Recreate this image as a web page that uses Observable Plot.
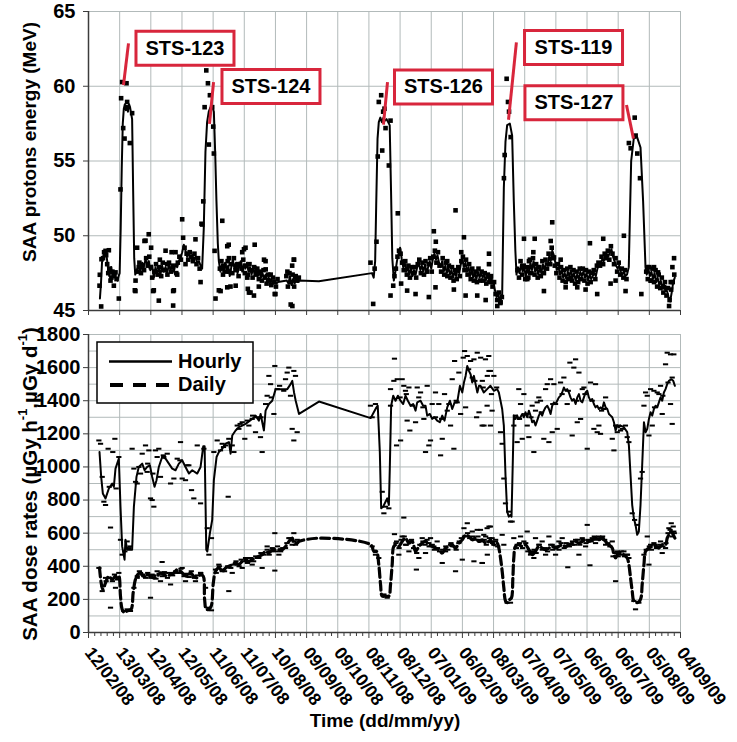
<!DOCTYPE html>
<html><head><meta charset="utf-8">
<script src="https://cdn.jsdelivr.net/npm/d3@7"></script>
<script src="https://cdn.jsdelivr.net/npm/@observablehq/plot@0.6"></script>
<style>
body{margin:0;background:#fff;}
#chart{width:737px;height:742px;overflow:hidden;}
#chart svg{display:block;}
</style></head><body><div id="chart"></div>
<script>
// ---------- DATA (day offset from 12/02/08, value) ----------
const tickDays = [0,30,60,90,120,150,180,210,240,270,300,330,360,390,420,450,480,510,540,570];
const energyTicks = [45,50,55,60,65];
const doseTicks = [0,200,400,600,800,1000,1200,1400,1600,1800];

const missions = [
  {label:"STS-123", day:92.9,  val:62.54, p1:[38.5,62.87], p2:[33.7,60.08]},
  {label:"STS-124", day:175.7, val:59.98, p1:[120.4,60.28], p2:[116.5,57.49]},
  {label:"STS-126", day:341.8, val:59.95, p1:[287.9,60.28], p2:[284,57.43]},
  {label:"STS-119", day:467,   val:62.6,  p1:[412,62.94], p2:[404.4,57.76]},
  {label:"STS-127", day:467.4, val:58.9,  p1:[518,58.75], p2:[524.7,56.5]}
];

const energyLine = [[11,45.8],[12,46.8],[13,48.2],[14,48.6],[15,48.8],[16,49.0],[17,48.9],[18,48.3],[19,47.7],[20,47.3],[21,47.8],[22,47.9],[23,47.3],[24,47.6],[26,47.2],[28,47.0],[29,47.3],[30,47.5],[31,50.5],[32,54.5],[33,57.5],[34,58.5],[35,58.8],[36,58.4],[37,58.7],[38,58.3],[39,58.8],[40,58.6],[41,58.2],[42,57.8],[43,53.0],[44,48.5],[45,47.4],[47,47.8],[48.5,48.0],[50,47.6],[51.7,48.2],[53,47.9],[54.9,48.4],[56.5,48.1],[58.1,48.3],[59.5,47.7],[61.3,48.0],[62.9,47.2],[64.5,47.9],[66,47.5],[67.7,47.8],[69.3,47.4],[70.9,48.0],[72.5,47.6],[74.2,47.9],[75.8,47.5],[77.4,48.1],[79,47.7],[80.6,48.0],[82.2,47.6],[83.8,48.1],[85.4,47.9],[87,48.3],[88.6,48.5],[90.2,48.9],[91.8,49.4],[93.4,49.0],[95,48.6],[96.6,48.8],[98.2,48.5],[99.8,48.7],[101.4,48.4],[103,48.6],[104.6,48.2],[106.3,48.3],[107.9,48.0],[109.4,47.8],[111,50.5],[112.6,55.6],[114.2,57.6],[115.8,58.3],[117.5,58.6],[119.1,58.7],[120.7,58.3],[122,55.5],[123.2,52.3],[124.5,49.5],[125.5,48.3],[127,47.6],[128.5,48.1],[130,47.5],[131.5,48.2],[133,47.7],[134.5,48.0],[136,47.3],[137.5,47.9],[139,48.4],[140.5,47.8],[142,48.2],[143.5,47.5],[145,47.9],[146.5,48.3],[148,47.6],[149.5,48.1],[151,47.8],[152.5,48.2],[154,47.6],[155.5,47.9],[157,47.4],[158.5,47.8],[160,47.5],[161.5,47.9],[163,47.3],[164.5,47.6],[166,47.2],[167.5,47.5],[169,47.1],[170.5,47.4],[172,46.9],[173.5,47.2],[175,46.9],[176.5,47.0],[178,46.8],[179.5,46.9],[181,46.8],[182.5,46.9],[191,47.0],[192.5,46.8],[194,47.3],[195.5,46.7],[197,47.1],[198.5,46.8],[200,47.2],[201.5,46.9],[202.7,47.0],[221.8,46.95],[273,47.5],[274.6,47.2],[276,48.3],[277,52],[278.3,56.5],[279.5,57.6],[281,57.9],[282.5,57.6],[284,57.9],[285.5,57.7],[287,57.8],[288.5,57.6],[290,57.4],[291.3,53],[292.5,48.5],[294,47.0],[295.5,47.6],[297,48.3],[298.5,48.8],[300,49.2],[301.5,48.5],[303,47.9],[304.5,48.2],[306,47.6],[307.5,47.9],[309,47.4],[310.5,47.8],[312,47.3],[313.5,47.7],[315,47.4],[316.5,47.9],[318,48.2],[319.5,47.7],[321,48.0],[322.5,47.6],[324,48.1],[325.5,47.5],[327,47.9],[328.5,48.3],[330,47.8],[331.5,48.4],[333,48.8],[334.5,48.4],[336,48.7],[337.5,48.2],[339,47.9],[340.5,48.3],[342,47.6],[343.5,48.0],[345,47.5],[346.5,47.9],[348,47.4],[349.5,47.7],[351,47.2],[352.5,47.6],[354,47.3],[355.5,47.8],[357,47.5],[358.5,48.1],[360,48.4],[361.5,47.9],[363,48.2],[364.5,47.6],[366,47.9],[367.5,47.3],[369,47.7],[370.5,47.2],[372,47.5],[373.5,47.1],[375,47.6],[376.5,47.2],[378,47.5],[379.5,47.2],[381,47.4],[382.5,47.0],[384,47.3],[385.5,47.1],[387,47.2],[388.5,46.8],[390,46.9],[391.5,46.3],[393,45.9],[394.5,46.1],[396,45.6],[397.5,45.8],[398.3,46.1],[399.9,53.2],[401.5,56.3],[403.1,57.4],[405.7,57.5],[407.9,56.7],[409.5,52.3],[411,49],[412.1,47.4],[413.5,47.9],[415,47.5],[416.5,48.1],[418,47.6],[419.5,47.9],[421,47.3],[422.5,47.8],[424,47.4],[425.5,48.2],[427,47.7],[428.5,48.3],[430,47.6],[431.5,47.9],[433,47.4],[434.5,47.8],[436,47.5],[437.5,48.1],[439,47.7],[440.5,48.2],[442,48.0],[443.5,48.6],[445,48.3],[446.5,49.0],[448,48.7],[449.5,48.2],[451,47.7],[452.5,47.9],[454,47.4],[455.5,47.7],[457,47.2],[458.5,47.5],[460,47.1],[461.5,47.6],[463,47.3],[464.5,47.7],[466,47.2],[467.5,47.5],[469,47.0],[470.5,47.4],[472,47.1],[473.5,47.6],[475,47.3],[476.5,47.6],[478,47.2],[479.5,47.5],[481,47.0],[482.5,47.4],[484,47.1],[485.5,47.3],[487,47.5],[488.5,47.3],[490,47.8],[491.5,48.0],[493,48.2],[494.5,48.4],[496,48.3],[497.5,48.6],[499,48.8],[500.5,48.6],[502,48.9],[503.5,49.1],[505,48.6],[506.5,48.3],[508,48.0],[509.5,47.8],[511,48.0],[512.5,47.6],[514,47.4],[515.5,47.6],[517,47.3],[518.5,47.4],[520.2,47.9],[522.5,55.0],[525,56.5],[528.2,56.6],[531.5,55.9],[534,52.3],[536.3,47.9],[537.5,47.4],[539,47.8],[540.5,47.3],[542,47.6],[543.5,47.1],[545,47.5],[546.5,46.9],[548,47.2],[549.5,46.7],[551,47.0],[552.5,46.5],[554,46.8],[555.5,46.3],[557,46.3],[558.5,45.9],[560,45.6],[561.5,46.2],[563,46.9],[564.5,47.2]];

const energyPoints = [[12.2,45.27],[10.6,46.66],[10.9,47.39],[12.5,48.43],[16.4,48.99],[19.6,49.03],[21.2,47.0],[24.4,46.66],[26.0,47.55],[29.2,45.8],[30.8,53.1],[31.4,59.2],[32.4,60.28],[36.6,60.2],[33.4,57.2],[34.7,56.5],[37.2,58.95],[39.8,56.2],[42.0,58.2],[46.8,49.2],[45.2,46.3],[48.4,47.9],[53.9,49.65],[58.0,50.1],[60.3,49.2],[61.3,47.2],[62.2,46.3],[67.7,45.66],[68.7,48.4],[75.7,48.1],[81.5,45.33],[81.5,46.3],[83.8,48.9],[85.4,47.4],[90.2,51.1],[91.1,49.87],[93.4,48.1],[103,49.76],[107.9,46.9],[109.5,50.75],[110.5,52.3],[111.8,58.6],[113.4,61.06],[115,60.2],[115.9,56.1],[116.9,59.4],[119.1,58.6],[120.1,57.3],[120.7,55.5],[121.4,48.99],[122.3,45.8],[127.2,46.3],[128.8,51.0],[133.6,49.3],[135.2,48.5],[133.6,46.55],[141.7,46.66],[144.2,48.1],[149.7,49.1],[152.9,47.2],[154.5,46.2],[159.3,46.0],[160,49.4],[162.6,47.5],[169,48.4],[170.6,47.75],[175.4,47.4],[179.3,46.1],[191.5,47.6],[194.7,45.4],[196.3,45.3],[197.9,48.4],[198.9,47.2],
[44.6,46.35],[45.3,47.0],[54.9,49.67],[62.9,46.35],[74.2,49.0],[80,48.9],[82.2,46.35],[108.8,50.8],[125.5,46.35],[135,49.4],[136.7,46.6],[148,48.9],[151.2,49.2],[153.4,46.45],[156,46.2],[164,46.6],[170.5,48.3],[180,46.1],
[196.1,48.0],[197.7,48.4],[271.5,48.2],[277.3,49.6],[275.5,47.8],
[274.1,45.44],[279.5,58.95],[281.8,59.4],[283.7,58.3],[285,58.5],[286,57.2],[282.8,55.7],[278.5,55.3],[289.2,54.7],[290.8,57.7],[297.8,51.5],[290.8,46.0],[293.4,46.66],[294.6,47.3],[301,46.8],[306.8,46.33],[314.9,46.1],[327.7,45.9],[332.5,50.3],[334.4,49.6],[334.1,46.55],[345.4,48.3],[351.8,46.4],[353.4,51.7],[361.5,49.9],[358.9,48.9],[363.1,46.0],[374.3,46.0],[382.4,45.7],[385.6,48.8],[385.6,48.1],[387.2,47.2],[393.6,45.3],[396.8,45.55],[400,53.85],[400.7,55.4],[402.6,60.5],[403.9,58.95],[404.9,58.3],[406.5,56.6],[419.3,49.8],[429.6,49.8],[422.5,47.1],[424.1,48.3],[428.3,48.9],[433.7,47.9],[438.5,46.3],[446.5,50.9],[445,49.65],[448.2,48.55],[454.6,48.4],[459.4,46.55],[464.2,47.2],[470.6,46.55],[478.6,46.4],[482.8,49.5],[489.8,46.1],[495.6,49.8],[502.7,46.8],[507.5,47.0],[515.5,50.0],[517.1,46.3],[520.3,56.2],[522,55.85],[525.9,57.9],[526.8,56.7],[528.4,55.5],[531,53.85],[532.3,46.1],[538,47.9],[541.3,47.0],[544.5,47.9],[548.4,47.55],[554.2,46.55],[559,45.3],[562.2,47.9],[563.8,48.5],[560.6,46.9],
[14,48.5],[15,48.9],[17,48.7],[18,48.1],[19,47.5],[20,47.8],[22,47.2],[23,47.6],[25,47.3],[27,47.1],
[47,47.6],[49,48.2],[50.5,47.5],[52,48.0],[53.5,47.7],[55.5,48.5],[57,48.0],[58.5,48.6],[60,47.9],[63.5,47.6],[65,48.1],[66.5,47.4],[68,47.9],[70,47.3],[71.5,48.2],[73,47.7],[76,47.4],[77.5,48.2],[79.5,47.6],[81,48.0],[84.5,47.5],[86,48.2],[87.5,48.6],[89,48.4],[92.5,49.2],[94.5,48.8],[96,48.4],[97.5,48.9],[99,48.6],[100.5,48.3],[102,48.8],[104,48.1],[105.5,48.5],[107,47.8],
[126.5,47.8],[128,48.3],[129.5,47.4],[131,48.0],[132.5,47.6],[134,48.3],[135.5,47.6],[137,48.1],[138.5,47.5],[140,48.5],[141.5,47.7],[143,48.0],[144.5,47.3],[146,48.1],[147.5,47.8],[149,48.4],[150.5,47.5],[152,48.0],[153.5,47.4],[155,48.1],[156.5,47.7],[158,47.2],[159.5,47.9],[161,47.4],[162.5,47.8],[164,47.1],[165.5,47.6],[167,47.0],[168.5,47.7],[170,47.2],[171.5,46.8],[173,47.4],[174.5,47.0],[176,46.7],[177.5,47.2],[179,46.9],[180.5,46.6],[182,47.1],
[190.5,47.3],[192,46.6],[193.5,47.5],[195,46.9],[196.5,47.4],[198,46.6],[199.5,47.3],[201,47.0],[202.5,47.2],
[296,47.8],[297.5,48.6],[299,49.0],[300.5,48.8],[302,48.2],[303.5,47.7],[305,48.3],[306.5,47.4],[308,48.0],[309.5,47.2],[311,47.9],[312.5,47.5],[314,47.9],[315.5,47.2],[317,48.1],[318.5,48.4],[320,47.5],[321.5,48.2],[323,47.4],[324.5,48.3],[326,47.6],[327.5,48.1],[329,48.5],[330.5,47.6],[332,48.6],[333.5,49.0],[335,48.2],[336.5,48.9],[338,48.0],[339.5,47.6],[341,48.5],[342.5,47.4],[344,48.2],[345.5,47.3],[347,48.0],[348.5,47.2],[350,47.9],[351.5,47.0],[353,47.7],[354.5,47.1],[356,47.9],[357.5,47.3],[359,48.3],[360.5,48.6],[362,47.7],[363.5,48.4],[365,47.4],[366.5,48.1],[368,47.1],[369.5,47.8],[371,47.0],[372.5,47.6],[374,46.9],[375.5,47.8],[377,47.0],[378.5,47.6],[380,47.0],[381.5,47.5],[383,46.8],[384.5,47.4],[386,46.9],[387.5,47.3],[389,46.6],[390.5,46.9],[392,46.1],[393.5,45.7],[395,46.2],[396.5,45.5],[398,45.9],
[413,47.7],[414.5,47.2],[416,48.3],[417.5,47.4],[419,48.0],[420.5,47.1],[422,47.9],[423.5,47.2],[425,48.4],[426.5,47.5],[428,48.5],[429.5,47.4],[431,48.1],[432.5,47.2],[434,47.9],[435.5,47.3],[437,48.3],[438.5,47.5],[440,48.4],[441.5,47.8],[443,48.8],[444.5,48.1],[446,49.2],[447.5,48.5],[449,48.0],[450.5,47.5],[452,48.1],[453.5,47.2],[455,47.9],[456.5,47.0],[458,47.7],[459.5,46.9],[461,47.8],[462.5,47.1],[464,47.9],[465.5,47.0],[467,47.7],[468.5,46.8],[470,47.6],[471.5,46.9],[473,47.8],[474.5,47.1],[476,47.8],[477.5,47.0],[479,47.7],[480.5,46.8],[482,47.6],[483.5,46.9],[485,47.5],[486.5,47.7],[488,47.1],[489.5,48.0],[491,48.2],[492.5,48.0],[494,48.6],[495.5,48.1],[497,48.8],[498.5,48.5],[500,49.0],[501.5,48.4],[503,49.3],[504.5,48.8],[506,48.1],[507.5,48.5],[509,47.6],[510.5,48.2],[512,47.4],[513.5,47.8],[515,47.2],[516.5,47.7],[518,47.1],
[537,47.6],[538.5,47.1],[540,47.9],[541.5,47.0],[543,47.8],[544.5,46.9],[546,47.7],[547.5,46.6],[549,47.4],[550.5,46.5],[552,47.2],[553.5,46.2],[555,46.9],[556.5,46.0],[558,46.5],[559.5,45.7],[561,46.4],[562.5,46.9],[564,47.4]];

const hourlyLine = [[10.6,1090],[12.2,940],[13.8,840],[16.4,810],[19.6,870],[22.8,900],[24.4,880],[26.0,990],[27.6,1020],[29.2,1050],[30.8,760],[32.4,520],[34.7,440],[35.6,560],[37.2,500],[42.0,500],[43.7,760],[46.2,940],[48.4,1000],[51.7,1020],[54.0,980],[56.5,1000],[59.1,1010],[61.3,940],[63.6,880],[65.5,920],[67.7,1000],[70.9,1060],[74.2,1050],[77.4,1020],[80.6,990],[83.8,980],[87.0,1020],[90.2,1040],[93.4,1000],[96.7,960],[99.9,980],[104.7,960],[107.9,1000],[110.5,1125],[111.8,1125],[113.4,500],[114.4,490],[116.9,600],[119.1,680],[120.7,920],[123.3,1060],[125.5,1090],[128.8,1110],[132,1140],[135.2,1150],[136.8,1080],[138.4,1190],[141.6,1220],[144.8,1240],[148,1250],[151.2,1260],[155.4,1280],[157.6,1290],[160.9,1310],[164.1,1280],[165.7,1320],[168.9,1220],[170.5,1340],[173.7,1380],[176.9,1400],[180.2,1470],[183.4,1470],[188.2,1470],[191.4,1470],[194.6,1500],[196.2,1520],[197.9,1450],[199.5,1400],[202.7,1320],[221.9,1395],[271.7,1295],[274.7,1330],[277.3,1360],[278.5,1370],[280.5,1090],[281.8,750],[283.7,760],[286,790],[287.6,810],[289.2,770],[290.1,990],[291.4,1370],[293.4,1430],[295.6,1400],[297.9,1430],[300.4,1400],[303,1380],[305.2,1430],[307.5,1400],[310.1,1370],[312.6,1380],[314.9,1340],[316.5,1390],[319.7,1400],[322.2,1370],[324.5,1370],[326.1,1310],[328.7,1320],[330.9,1290],[333.2,1300],[335.7,1280],[338.3,1270],[340.6,1310],[342.8,1280],[345.4,1360],[348,1400],[350.2,1350],[352.5,1390],[355,1390],[357.6,1490],[359.9,1450],[361.5,1510],[363.1,1550],[364.7,1610],[366.3,1580],[367.9,1560],[369.5,1510],[371.1,1550],[372.7,1500],[374.4,1450],[376,1490],[377.4,1490],[380.6,1450],[383.8,1470],[387,1490],[390.3,1460],[393.5,1470],[395.1,1450],[398.3,1350],[399.9,1250],[401.5,950],[403.1,730],[404.7,700],[406.3,710],[407.3,700],[408.6,1050],[409.5,1310],[411.1,1290],[412.7,1310],[414.3,1290],[415.9,1300],[417.6,1320],[419.2,1300],[420.8,1330],[422.4,1300],[424,1340],[425.6,1310],[427.2,1270],[428.8,1280],[430.4,1250],[432,1280],[433.6,1310],[435.2,1330],[436.8,1310],[438.4,1340],[440.1,1360],[441.7,1370],[443.3,1350],[444.9,1320],[446.5,1370],[448.1,1390],[449.7,1380],[451.3,1400],[452.9,1420],[454.5,1430],[456.1,1450],[457.7,1480],[459.3,1460],[460.9,1470],[462.5,1450],[464.1,1420],[465.7,1400],[467.3,1410],[469,1380],[470.6,1420],[472.2,1440],[473.8,1400],[475.4,1390],[477,1420],[478.6,1450],[480.2,1460],[481.8,1420],[483.4,1400],[485,1410],[486.6,1380],[488.2,1360],[489.8,1370],[491.4,1350],[493,1360],[494.6,1350],[496.3,1390],[497.9,1360],[499.5,1350],[501.1,1320],[502.7,1310],[504.3,1300],[505.9,1270],[507.5,1220],[509.1,1250],[510.7,1240],[512.3,1250],[515.5,1240],[518.7,1210],[520.3,1130],[521.9,950],[523.5,770],[525.1,690],[526.7,650],[528.3,590],[529.9,610],[531.5,770],[533.1,1010],[534.8,1270],[536.4,1210],[538,1230],[539.6,1290],[541.2,1330],[542.8,1310],[544.4,1350],[546,1370],[547.6,1360],[549.2,1390],[550.8,1420],[552.4,1400],[554,1450],[555.6,1470],[557.2,1500],[558.8,1520],[561.1,1530],[563,1520],[564.6,1490]];

const dailyLine = [[10.6,390],[12.2,300],[13.8,260],[16.4,300],[19.6,340],[22.8,320],[26,340],[27.6,330],[29.2,340],[30.8,220],[32.4,140],[34.7,120],[37.2,130],[41,140],[43,240],[45.2,320],[47.4,350],[50,360],[53.2,340],[56.5,350],[59.7,340],[62.9,330],[66.1,340],[69.3,360],[72.5,350],[75.7,340],[78.9,350],[82.2,360],[85.4,380],[88.6,370],[91.8,350],[95,340],[98.2,360],[101.4,340],[104.7,330],[107.9,350],[110.5,340],[111.8,200],[113.4,140],[116,140],[118.2,160],[120.2,300],[122.4,370],[125.6,390],[128.8,370],[132,390],[135.2,400],[138.4,410],[141.6,420],[144.8,410],[148,430],[151.2,440],[154.4,430],[157.6,440],[160.9,450],[164,460],[167.3,470],[170.5,490],[173.7,480],[176.9,500],[180.2,500],[183.4,500],[186.6,500],[189.8,520],[193,550],[196.2,570],[197.9,540],[201.1,540],[202.7,550],[223.5,570],[271.7,530],[274.7,490],[277.3,490],[279.5,410],[281.2,290],[282.8,220],[286,220],[289.2,220],[290.8,290],[292.4,410],[294,520],[296.6,530],[298.8,520],[302,550],[305.2,570],[308.5,540],[311.7,550],[314.9,490],[318.1,520],[321.3,540],[324.5,550],[327.7,530],[330.9,520],[334.1,510],[337.3,500],[340.6,480],[343.8,510],[347,520],[350.2,530],[353.4,510],[356.6,540],[359.9,560],[363.1,590],[366.3,580],[369.5,560],[372.7,570],[375.9,550],[379.2,560],[382.4,540],[385.6,550],[387,560],[390.3,530],[393.5,540],[395.1,510],[396.7,450],[398.3,370],[399.9,270],[401.5,190],[403.1,180],[405.7,200],[407.3,210],[408.6,330],[409.5,450],[411.1,520],[414.3,530],[417.6,520],[420.8,530],[424,500],[427.2,470],[430.4,490],[433.6,520],[436.8,510],[440.1,500],[443.3,510],[446.5,520],[449.7,510],[452.9,520],[456.1,530],[459.3,520],[462.5,530],[465.7,540],[469,550],[472.2,540],[475.4,550],[478.6,560],[481.8,550],[485,560],[488.2,570],[491.4,560],[494.6,570],[497.9,550],[501.1,530],[504.3,510],[505.9,470],[507.5,450],[509.1,470],[512.3,480],[515.5,470],[518.7,450],[520.3,410],[521.9,330],[523.5,250],[525.1,190],[528.3,180],[531.5,200],[533.1,290],[534.8,410],[536.4,490],[539.6,510],[542.8,520],[546,520],[549.2,510],[552.4,530],[555.6,530],[557.2,570],[558.8,590],[561.1,610],[563,590],[564.6,570]];

const hourlyPoints = [[10,1160],[11.6,1140],[13.2,940],[14.8,790],[16.4,770],[18.9,1110],[21.2,634],[23.4,1090],[25.4,1170],[26.6,870],[29.2,1060],[30.8,560],[32.4,470],[35,490],[37.2,550],[38.8,510],[42,1110],[43.7,990],[45.3,910],[46.9,900],[48.5,1000],[50.1,960],[51.7,1080],[54.9,1130],[56.5,970],[58.1,1100],[59.7,810],[61.3,800],[62.9,760],[64.5,1100],[66.1,1060],[67.7,1110],[69.3,940],[72.5,1060],[75.8,1080],[79,900],[82.2,930],[85.4,1050],[88.6,1150],[90.2,930],[93.4,920],[96.6,1010],[99.2,860],[101.4,810],[104.7,1130],[107.9,780],[111.1,1110],[114.3,630],[115.9,470],[118.4,570],[120.7,1090],[123.9,1160],[127.1,1100],[128.7,1140],[131.9,1130],[134.5,820],[135.1,1170],[138.4,1130],[140,1090],[143.2,1250],[144.8,1230],[148,1270],[150.5,1170],[152.8,1280],[154.4,1250],[157.6,1290],[160.8,1210],[162.4,1300],[165.6,1180],[167.2,1090],[170.5,1380],[172,1430],[173.7,1550],[175.3,1500],[178.5,1320],[179.4,1610],[181.7,1470],[189.7,1530],[191.3,1570],[192.9,1600],[194.5,1430],[196.1,1230],[197.7,1160],[197.7,1580],[199.3,1550],[200.9,1210],
[271.5,1370],[273.1,1300],[276.3,1380],[282.8,850],[284.4,720],[286,760],[289.2,750],[290.8,1370],[290.8,1470],[294,1520],[294.6,1654],[296.6,1130],[297.3,1530],[300.5,1160],[302,1530],[303.6,1490],[305.2,1460],[306.8,1280],[308.5,1480],[309.4,1220],[314.9,1270],[316.5,1480],[319.7,1450],[322.9,1290],[324.5,1090],[326.1,1490],[327.7,1130],[329.3,1160],[330.9,1380],[334.1,1450],[337.3,1380],[339,1070],[340.6,1170],[342.8,1440],[345.4,1340],[348.6,1250],[350.2,1530],[351.8,1110],[352.5,1640],[355,1390],[356.6,1570],[358.3,1320],[360.8,1660],[362.1,1700],[363.1,1360],[364.7,1670],[367.9,1640],[369.5,1540],[371.1,1650],[373.7,1300],[374.3,1690],[376,1330],[377.6,1660],[379.2,1520],[380.8,1250],[384,1550],[385.6,1580],
[382.2,1650],[385.4,1670],[387,1580],[390.3,1550],[388.6,1340],[383.8,1370],[379,1250],[387,1250],[396.7,1210],[398.3,1140],[399.9,930],[401.5,780],[404.7,730],[406.3,670],[407.9,670],[409.5,1250],[411.1,1310],[412.7,1150],[414.3,1470],[416,1380],[417.6,1170],[419.2,1440],[422.4,1250],[424,1180],[427.2,1370],[428.8,1090],[430.4,1340],[432,1390],[433.6,1420],[435.2,1400],[438.4,1170],[440.1,1470],[441.7,1500],[443.3,1150],[444.9,1530],[446.5,1210],[448.1,1500],[449.7,1380],[451.3,1230],[454.5,1510],[457.7,1540],[460.9,1380],[463.5,1630],[465.7,1190],[467.3,1600],[469,1650],[470.6,1270],[472.2,1570],[473.8,1290],[475.4,1470],[477,1480],[480.2,1110],[483.4,1510],[486.6,1230],[488.2,1500],[489.8,1210],[491.4,1250],[493,1200],[496.3,1350],[497.9,1420],[504.3,1170],[505.9,1100],[507.5,1250],[509.1,1210],[512.3,1220],[518.7,1180],[520.3,1150],[523.5,720],[525.8,680],[528.3,650],[531.5,930],[533.1,970],[534.8,1370],[536.4,1450],[538,1430],[539.6,1190],[541.2,1470],[542.8,1250],[544.4,1460],[547.6,1450],[549.2,1440],[550.8,1490],[552.4,1320],[555.6,1620],[557.2,1690],[560.4,1680],[563.6,1680],[562,1260],[560.4,1380],
[20,880],[40,520],[57,1020],[62,960],[72,1070],[88,1040],[95,1010],[130,1120],[146,1260],[158,1310],[166,1300],[176,1420],[184,1490],[188,1460],[300,1420],[306,1440],[312,1370],[318,1420],[322,1360],[334,1300],[340,1290],[347,1380],[354,1400],[366,1590],[372,1520],[380,1480],[388,1440],[393,1480],[415,1290],[421,1320],[426,1300],[436,1330],[447,1380],[456,1440],[462,1460],[470,1400],[478,1440],[485,1400],[494,1340],[510,1250],[514,1230],[517,1250],[545,1360],[553,1430],[558,1510],[562,1540]];

const dailyPoints = [[10,390],[21.2,150],[16.4,330],[13.2,250],[26,270],[29.2,360],[34,130],[37.2,140],[40.4,130],[43.7,270],[46.9,330],[50.1,360],[53.3,340],[59.7,210],[61.3,350],[66.1,370],[69.3,310],[70.9,426],[74.2,360],[79,290],[85.4,360],[90.2,390],[93.4,310],[96.6,350],[103,310],[107.9,360],[112.7,270],[115.2,150],[118.4,134],[122.3,380],[125.5,410],[128.7,370],[135.1,250],[138.4,360],[143.2,410],[148,390],[151.2,450],[157.6,410],[162.4,450],[167.2,390],[172,520],[175.3,490],[179.4,600],[179.4,374],[183.3,470],[189.7,510],[192.9,570],[196.1,530],[197.7,600],[199.3,530],
[273.1,520],[276.3,470],[279.5,450],[284.4,230],[287.6,210],[294.6,594],[296.6,550],[298.8,470],[302,580],[303.6,694],[305.2,530],[308.5,490],[315.7,380],[318.1,450],[321.3,570],[324.5,480],[327.7,540],[329.3,570],[332.5,520],[335.7,550],[340.6,420],[343.8,490],[348.6,530],[353.4,370],[356.6,540],[359.9,440],[361.5,630],[364.7,660],[369.5,610],[371.1,430],[374.3,620],[376,560],[379.2,420],[382.4,580],[385.6,640],[384,470],
[377.4,620],[380.6,590],[383.8,630],[385.4,550],[387,640],[388.6,570],[390.3,530],[391.9,550],[379,420],[398.3,590],[399.9,530],[403.1,180],[406.3,180],[409.5,570],[412.7,530],[416,580],[419.2,550],[422.4,610],[425.6,470],[427.2,490],[428.8,450],[430.4,570],[433.6,530],[436.8,550],[440.1,470],[443.3,580],[446.5,530],[449.7,470],[452.9,550],[456.1,570],[459.3,520],[461.5,394],[465.7,530],[469,560],[472.2,470],[475.4,570],[478.6,520],[480.2,650],[482.8,406],[485,570],[488.2,540],[491.4,580],[494.6,570],[497.9,530],[504.3,550],[507.5,310],[509.1,490],[512.3,470],[515.5,490],[518.7,470],[520.3,450],[525.1,190],[526.7,140],[529.9,180],[534.8,470],[538,580],[539.6,410],[541.2,530],[544.4,540],[547.6,520],[550.8,550],[552.4,480],[555.6,510],[558.8,630],[561.1,660],[563,640],[563.6,610],
[14,280],[17,310],[20,330],[23,310],[25,350],[28,320],[47,340],[49,370],[52,350],[55,330],[57,360],[60,330],[63,345],[65,325],[68,355],[71,340],[73,365],[76,330],[78,360],[81,345],[84,370],[87,360],[89,385],[92,340],[94,355],[97,335],[99,370],[102,330],[105,345],[108,360],[123,360],[126,400],[129,380],[131,370],[134,400],[137,390],[140,410],[142,430],[145,400],[147,440],[150,430],[153,420],[156,450],[159,430],[161,460],[164,450],[166,480],[169,470],[172,500],[174,470],[177,510],[180,490],[182,520],[185,490],[187,510],[191,540],[194,570],[198,550],[201,560],
[296,540],[299,510],[301,560],[304,580],[306,530],[309,550],[311,560],[313,510],[316,480],[319,530],[322,550],[324,530],[326,560],[328,520],[331,530],[333,500],[336,510],[338,490],[341,500],[344,520],[346,500],[349,540],[351,520],[354,500],[357,550],[359,570],[362,580],[365,600],[367,570],[370,580],[373,560],[375,580],[378,550],[381,560],[383,530],[386,570],[389,540],[392,560],[394,520],
[412,510],[415,540],[418,510],[421,540],[423,490],[426,480],[429,500],[431,480],[434,530],[437,500],[439,510],[442,490],[445,530],[447,500],[450,520],[453,500],[455,540],[458,510],[460,540],[463,520],[466,550],[468,530],[471,560],[473,530],[476,560],[479,540],[481,560],[484,550],[487,580],[489,560],[492,570],[495,580],[497,560],[500,540],[502,520],[505,460],[508,480],[510,460],[513,490],[516,460],[519,470],
[537,500],[540,520],[542,500],[545,530],[547,510],[550,530],[553,520],[556,540],[558,600],[560,620],[562,580],[564,600]];

// ---------- HELPERS ----------
const base = Date.UTC(2008, 1, 12);
const toDate = d => new Date(base + d * 864e5);
const rows = arr => arr.map(([d, v]) => ({date: toDate(d), v}));
const majorTicks = tickDays.map(toDate);
const minorTicks = d3.range(0, 571, 6).filter(d => d % 30 !== 0).map(toDate);
const xDomain = [toDate(tickDays[0]), toDate(tickDays[tickDays.length - 1])];
const fmt = d3.utcFormat("%d/%m/%y");
const FONT = "'Liberation Sans', Arial, Helvetica, sans-serif";
const GRID = "#b2baba";
const AX = "#3c3c3c";
const RED = "#d8263c";
const style = {fontFamily: FONT, fontWeight: "bold", fontSize: "19px", color: "#000", background: "#fff", overflow: "visible"};

const squareSym = {draw(ctx) { ctx.rect(-2.3, -2.3, 4.6, 4.6); }};
const dashSym = {draw(ctx) { ctx.rect(-2.6, -1, 5.2, 2); }};
const boxSym = {draw(ctx) { ctx.rect(-49, -17, 98, 34); }};

// ---------- TOP PANEL ----------
const topPlot = Plot.plot({
  width: 737, height: 318,
  marginLeft: 88, marginRight: 57, marginTop: 11, marginBottom: 8,
  style,
  x: {type: "utc", domain: xDomain},
  y: {domain: [45, 65]},
  marks: [
    Plot.gridX(majorTicks, {stroke: GRID, strokeOpacity: 1}),
    Plot.gridY(energyTicks, {stroke: GRID, strokeOpacity: 1}),
    Plot.axisY(energyTicks, {tickSize: 5, tickPadding: 8, fontSize: 20, label: null, stroke: AX}),
    Plot.axisX(majorTicks, {tickSize: 5, tickFormat: () => "", label: null, stroke: AX}),
    Plot.ruleX([xDomain[0]], {stroke: AX, strokeWidth: 1.5}),
    Plot.ruleY([45], {stroke: AX, strokeWidth: 1.5}),
    Plot.line(rows(energyLine), {x: "date", y: "v", stroke: "#000", strokeWidth: 2}),
    Plot.dot(rows(energyPoints), {x: "date", y: "v", symbol: squareSym, fill: "#000", r: 2}),
    Plot.link(missions, {x1: d => toDate(d.p1[0]), y1: d => d.p1[1], x2: d => toDate(d.p2[0]), y2: d => d.p2[1], stroke: RED, strokeWidth: 3}),
    Plot.dot(missions, {x: d => toDate(d.day), y: "val", symbol: boxSym, r: 10, fill: "#fff", stroke: RED, strokeWidth: 3}),
    Plot.text(missions, {x: d => toDate(d.day), y: "val", text: "label", fontSize: 20, fontWeight: "bold", fill: "#000"})
  ]
});

// ---------- BOTTOM PANEL ----------
const botPlot = Plot.plot({
  width: 737, height: 424,
  marginLeft: 88, marginRight: 57, marginTop: 16, marginBottom: 110,
  style,
  x: {type: "utc", domain: xDomain},
  y: {domain: [0, 1800]},
  marks: [
    Plot.gridX(majorTicks, {stroke: GRID, strokeOpacity: 1}),
    Plot.gridY(d3.range(100, 1801, 100), {stroke: GRID, strokeOpacity: 1}),
    Plot.axisY(doseTicks, {tickSize: 5, tickPadding: 3, fontSize: 20, tickFormat: d => String(d), label: null, stroke: AX}),
    Plot.axisX(minorTicks, {tickSize: 4, tickFormat: () => "", label: null, stroke: AX}),
    Plot.axisX(majorTicks, {tickSize: 6, tickPadding: 11, tickRotate: 52, tickFormat: fmt, fontSize: 17.5, label: null, stroke: AX}),
    Plot.ruleX([xDomain[0]], {stroke: AX, strokeWidth: 1.5}),
    Plot.ruleY([0], {stroke: AX, strokeWidth: 1.5}),
    Plot.line(rows(hourlyLine), {x: "date", y: "v", stroke: "#000", strokeWidth: 2}),
    Plot.line(rows(dailyLine), {x: "date", y: "v", stroke: "#000", strokeWidth: 3.2, strokeDasharray: "9,4", curve: "catmull-rom"}),
    Plot.dot(rows(hourlyPoints), {x: "date", y: "v", symbol: dashSym, fill: "#000", r: 2}),
    Plot.dot(rows(dailyPoints), {x: "date", y: "v", symbol: dashSym, fill: "#000", r: 2})
  ]
});

const chart = document.getElementById("chart");
chart.appendChild(topPlot);
chart.appendChild(botPlot);

// ---------- TITLES & LEGEND ----------
const ts = d3.select(topPlot);
ts.append("text")
  .attr("transform", "translate(29,142) rotate(-90)")
  .attr("text-anchor", "middle").attr("dominant-baseline", "central")
  .attr("font-family", FONT).attr("font-weight", "bold").attr("font-size", 19)
  .text("SAA protons energy (MeV)");

const bs = d3.select(botPlot);
const yl = bs.append("text")
  .attr("transform", "translate(29,166) rotate(-90)")
  .attr("text-anchor", "middle").attr("dominant-baseline", "central")
  .attr("font-family", FONT).attr("font-weight", "bold").attr("font-size", 20.5);
yl.append("tspan").text("SAA dose rates (\u00b5Gy h");
yl.append("tspan").attr("dy", -7).attr("font-size", 13).text("-1");
yl.append("tspan").attr("dy", 7).text(",\u00b5Gy d");
yl.append("tspan").attr("dy", -7).attr("font-size", 13).text("-1");
yl.append("tspan").attr("dy", 7).text(")");

bs.append("text")
  .attr("x", 385).attr("y", 409)
  .attr("text-anchor", "middle")
  .attr("font-family", FONT).attr("font-weight", "bold").attr("font-size", 19)
  .text("Time (dd/mm/yy)");

const lg = bs.append("g").attr("text-anchor", "start");
lg.append("rect").attr("x", 97).attr("y", 24).attr("width", 156).attr("height", 61)
  .attr("fill", "#fff").attr("stroke", "#000").attr("stroke-width", 1.5);
lg.append("line").attr("x1", 109).attr("x2", 172).attr("y1", 43.5).attr("y2", 43.5)
  .attr("stroke", "#000").attr("stroke-width", 2.5);
lg.append("line").attr("x1", 110).attr("x2", 172).attr("y1", 67).attr("y2", 67)
  .attr("stroke", "#000").attr("stroke-width", 4).attr("stroke-dasharray", "13,10");
lg.append("text").attr("x", 178).attr("y", 50).attr("text-anchor", "start")
  .attr("font-family", FONT).attr("font-weight", "bold").attr("font-size", 20).text("Hourly");
lg.append("text").attr("x", 178).attr("y", 73).attr("text-anchor", "start")
  .attr("font-family", FONT).attr("font-weight", "bold").attr("font-size", 20).text("Daily");
</script></body></html>
